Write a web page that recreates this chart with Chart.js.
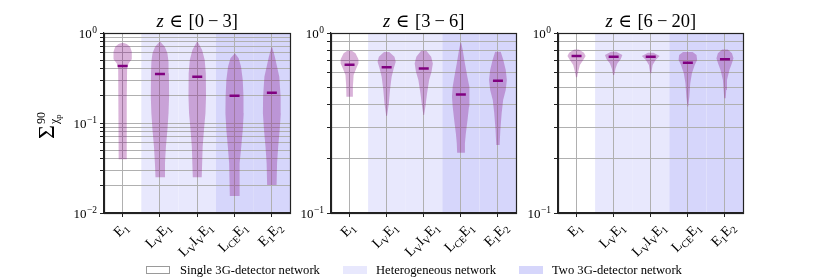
<!DOCTYPE html>
<html>
<head>
<meta charset="utf-8">
<script src="https://cdn.jsdelivr.net/npm/chart.js@4.4.1/dist/chart.umd.min.js"></script>
<style>
html,body{margin:0;padding:0;background:#fff;}
#wrap{position:relative;width:830px;height:277px;overflow:hidden;background:#fff;}
.cv{position:absolute;top:0;}
.legtxt{position:absolute;font-family:'Liberation Serif','DejaVu Serif',serif;font-size:12.6px;line-height:12px;color:#000;white-space:nowrap;}
.patch{position:absolute;box-sizing:border-box;}
</style>
</head>
<body>
<div id="wrap">
  <canvas id="c1" class="cv" style="left:0px" width="298" height="277"></canvas>
  <canvas id="c2" class="cv" style="left:285px" width="239" height="277"></canvas>
  <canvas id="c3" class="cv" style="left:512px" width="239" height="277"></canvas>
</div>
<script>
// ---------------- DATA ----------------
const categories = ['E1', 'LVE1', 'LVIVE1', 'LCEE1', 'E1E2'];
// label pieces: [main text, subscript]
const categoryLabelParts = [
  [['E', '1']],
  [['L', 'V'], ['E', '1']],
  [['L', 'V'], ['I', 'V'], ['E', '1']],
  [['L', 'CE'], ['E', '1']],
  [['E', '1'], ['E', '2']]
];
const networkType = ['single', 'hetero', 'hetero', 'two', 'two'];
const legendLabels = ['Single 3G-detector network', 'Heterogeneous network', 'Two 3G-detector network'];
const redshiftBins = [['0', '3'], ['3', '6'], ['6', '20']];
const yTickExponentsWide = [-2, -1, 0];
const yTickExponentsNarrow = [-1, 0];

// violin profiles: [value, half width (in category units)], from top to bottom
const z0to3_E1 = [[0.775,0.03],[0.755,0.11],[0.705,0.2],[0.62,0.245],[0.51,0.245],[0.46,0.16],[0.405,0.12],[0.196,0.115],[0.0836,0.105],[0.0395,0.10]];
const z0to3_LVE1 = [[0.801,0.01],[0.705,0.13],[0.594,0.2],[0.48,0.23],[0.356,0.24],[0.196,0.245],[0.128,0.23],[0.0836,0.2],[0.0546,0.16],[0.0356,0.135],[0.0249,0.12]];
const z0to3_LVIVE1 = [[0.801,0.01],[0.647,0.13],[0.501,0.2],[0.356,0.23],[0.196,0.235],[0.128,0.22],[0.0836,0.18],[0.0546,0.145],[0.0249,0.12]];
const z0to3_LCEE1 = [[0.594,0.01],[0.523,0.11],[0.423,0.175],[0.30,0.22],[0.196,0.24],[0.128,0.245],[0.0836,0.22],[0.0546,0.18],[0.0356,0.145],[0.0233,0.127],[0.01545,0.127]];
const z0to3_E1E2 = [[0.693,0.01],[0.546,0.08],[0.423,0.14],[0.327,0.2],[0.196,0.235],[0.128,0.24],[0.0836,0.21],[0.0546,0.17],[0.0356,0.14],[0.0205,0.127]];
const z0to3_medians = [0.43, 0.35, 0.327, 0.201, 0.217];

const z3to6_E1 = [[0.798,0.06],[0.771,0.16],[0.714,0.24],[0.678,0.24],[0.636,0.18],[0.584,0.11],[0.503,0.09],[0.443,0.085]];
const z3to6_LVE1 = [[0.784,0.07],[0.739,0.21],[0.693,0.245],[0.636,0.19],[0.572,0.135],[0.482,0.09],[0.407,0.06],[0.346,0.01]];
const z3to6_LVIVE1 = [[0.798,0.07],[0.739,0.2],[0.678,0.245],[0.61,0.21],[0.548,0.145],[0.462,0.09],[0.398,0.05],[0.35,0.01]];
const z3to6_LCEE1 = [[0.884,0.01],[0.804,0.05],[0.678,0.11],[0.572,0.175],[0.503,0.22],[0.443,0.24],[0.39,0.22],[0.329,0.18],[0.277,0.135],[0.244,0.11],[0.216,0.10]];
const z3to6_E1E2 = [[0.788,0.075],[0.708,0.145],[0.623,0.21],[0.548,0.24],[0.482,0.21],[0.424,0.14],[0.358,0.1],[0.289,0.065],[0.239,0.045]];
const z3to6_medians = [0.667, 0.645, 0.636, 0.456, 0.543];

const z6to20_E1 = [[0.811,0.06],[0.777,0.2],[0.745,0.245],[0.708,0.18],[0.664,0.09],[0.61,0.045],[0.567,0.015]];
const z6to20_LVE1 = [[0.788,0.07],[0.755,0.235],[0.714,0.19],[0.678,0.1],[0.636,0.05],[0.584,0.015]];
const z6to20_LVIVE1 = [[0.777,0.075],[0.745,0.24],[0.708,0.13],[0.664,0.05],[0.597,0.015]];
const z6to20_LCEE1 = [[0.784,0.13],[0.755,0.235],[0.708,0.25],[0.664,0.185],[0.597,0.11],[0.525,0.065],[0.443,0.04],[0.39,0.01]];
const z6to20_E1E2 = [[0.811,0.075],[0.771,0.19],[0.723,0.23],[0.678,0.185],[0.623,0.12],[0.548,0.055],[0.482,0.035],[0.434,0.02]];
const z6to20_medians = [0.745, 0.739, 0.739, 0.684, 0.714];

// ---------------- STYLE ----------------
const FONT = "'Liberation Serif','DejaVu Serif',serif";
const shadeColors = { single: null, hetero: 'rgb(232,232,253)', two: 'rgb(214,214,251)' };
const GRID = '#b0b0b0';
const AXIS = '#222222';

function logTicks(min, max) {
  const out = [];
  const e0 = Math.round(Math.log10(min)), e1 = Math.round(Math.log10(max));
  for (let e = e0; e < e1; e++) for (let m = 1; m < 10; m++) out.push(+(m * Math.pow(10, e)).toPrecision(6));
  out.push(max);
  return out;
}

function measureRich(ctx, parts, size) {
  let w = 0;
  parts.forEach(([m, s]) => {
    ctx.font = size + 'px ' + FONT; w += ctx.measureText(m).width;
    if (s) { ctx.font = (size * 0.7) + 'px ' + FONT; w += ctx.measureText(s).width; }
  });
  return w;
}
function drawRich(ctx, parts, x, y, size) {
  let cx = x;
  parts.forEach(([m, s]) => {
    ctx.font = size + 'px ' + FONT; ctx.fillText(m, cx, y); cx += ctx.measureText(m).width;
    if (s) { ctx.font = (size * 0.7) + 'px ' + FONT; ctx.fillText(s, cx, y + size * 0.22); cx += ctx.measureText(s).width; }
  });
}

const backgroundPlugin = {
  id: 'networkShading',
  beforeDraw(chart) {
    const { ctx, chartArea: a, scales: { x } } = chart;
    ctx.save();
    networkType.forEach((t, i) => {
      const col = shadeColors[t];
      if (!col) return;
      const l = x.getPixelForValue(i - 0.5), r = x.getPixelForValue(i + 0.5);
      ctx.fillStyle = col;
      ctx.fillRect(l, a.top, r - l, a.bottom - a.top);
    });
    ctx.restore();
  }
};

const decorPlugin = {
  id: 'decor',
  afterDraw(chart) {
    const { ctx, chartArea: a, scales: { x, y } } = chart;
    const o = chart.options.plugins.decor;
    ctx.save();
    // frame
    ctx.strokeStyle = AXIS; ctx.lineWidth = 1.2;
    ctx.strokeRect(Math.round(a.left) + 0.5, Math.round(a.top) + 0.5, Math.round(a.right - a.left) - 1, Math.round(a.bottom - a.top));
    ctx.fillStyle = '#000';
    ctx.textBaseline = 'alphabetic'; ctx.textAlign = 'left';
    // x labels (rotated 45deg, centred on tick)
    const sz = 14.2;
    categoryLabelParts.forEach((parts, i) => {
      const px = x.getPixelForValue(i);
      const w = measureRich(ctx, parts, sz);
      const h = sz * 0.95;
      const W = (w + h) * Math.SQRT1_2;
      ctx.save();
      ctx.translate(px - 1, a.bottom + 8 + W / 2);
      ctx.rotate(-Math.PI / 4);
      drawRich(ctx, parts, -w / 2, sz * 0.22, sz);
      ctx.restore();
    });
    // y labels 10^n
    o.exponents.forEach(e => {
      const py = y.getPixelForValue(Math.pow(10, e));
      const sup = e < 0 ? '\u2212' + Math.abs(e) : String(e);
      ctx.font = '13px ' + FONT; const w10 = ctx.measureText('10').width;
      ctx.font = '9.5px ' + FONT; const ws = ctx.measureText(sup).width;
      const x0 = a.left - 7 - (w10 + ws + 0.5);
      ctx.font = '13px ' + FONT; ctx.fillText('10', x0, py + 4.5);
      ctx.font = '9.5px ' + FONT; ctx.fillText(sup, x0 + w10 + 0.5, py - 0.5);
    });
    // title  z ∈ [a − b]
    const tsz = 18.5;
    const pieces = [
      { t: 'z', it: true }, { g: 0.3 }, { t: '\u2208' }, { g: 0.3 },
      { t: '[' + o.bin[0] }, { g: 0.22 }, { t: '\u2212' }, { g: 0.22 }, { t: o.bin[1] + ']' }
    ];
    let tw = 0;
    pieces.forEach(p => {
      if (p.g) { tw += p.g * tsz; return; }
      ctx.font = (p.it ? 'italic ' : '') + tsz + 'px ' + FONT; p.w = ctx.measureText(p.t).width; tw += p.w;
    });
    let tx = (a.left + a.right) / 2 - tw / 2;
    pieces.forEach(p => {
      if (p.g) { tx += p.g * tsz; return; }
      ctx.font = (p.it ? 'italic ' : '') + tsz + 'px ' + FONT; ctx.fillText(p.t, tx, 26.5); tx += p.w;
    });
    // y-axis title
    if (o.yTitle) {
      ctx.save();
      ctx.translate(54, 139);
      ctx.rotate(-Math.PI / 2);
      ctx.font = '24px ' + FONT; ctx.fillText('\u03A3', 0, 0);
      const wS = ctx.measureText('\u03A3').width + 1;
      ctx.font = '12px ' + FONT; ctx.fillText('90', wS, -9);
      ctx.fillText('\u03C7', wS, 4);
      const wc = ctx.measureText('\u03C7').width;
      ctx.font = '8.5px ' + FONT; ctx.fillText('p', wS + wc, 6.5);
      ctx.restore();
    }
    ctx.restore();
  }
};

function makeChart(id, profiles, medians, yMin, yMax, yWidth, padRight, bin, exponents, yTitle) {
  const datasets = [{
    data: medians.map((m, i) => ({ x: i, y: m })),
    showLine: false, pointStyle: 'line', pointRadius: 5, pointBorderWidth: 2.5,
    pointBorderColor: '#800080', pointBackgroundColor: '#800080', order: 0
  }];
  profiles.forEach((prof, i) => {
    const right = prof.slice().reverse().map(([v, w]) => ({ x: i + w, y: v }));
    const left = prof.map(([v, w]) => ({ x: i - w, y: v }));
    datasets.push({
      data: right.concat(left), fill: 'shape', backgroundColor: 'rgba(128,0,128,0.3)',
      borderWidth: 0, pointRadius: 0, tension: 0, order: 1
    });
  });
  const gridOpts = { color: GRID, lineWidth: 1, tickLength: 4, tickColor: AXIS, tickWidth: 1 };
  return new Chart(document.getElementById(id), {
    type: 'line',
    data: { datasets },
    options: {
      responsive: false, animation: false, devicePixelRatio: 1, events: [],
      layout: { padding: { top: 33, right: padRight, left: 0, bottom: 0 } },
      plugins: { legend: { display: false }, tooltip: { enabled: false }, decor: { bin, exponents, yTitle } },
      scales: {
        x: {
          type: 'linear', min: -0.5, max: 4.5,
          afterBuildTicks: s => { s.ticks = categories.map((_, i) => ({ value: i })); },
          ticks: { display: false }, grid: gridOpts, border: { color: AXIS, width: 1.2 },
          afterFit: s => { s.height = 64; }
        },
        y: {
          type: 'logarithmic', min: yMin, max: yMax,
          afterBuildTicks: s => { s.ticks = logTicks(yMin, yMax).map(v => ({ value: v })); },
          ticks: { display: false }, grid: gridOpts, border: { color: AXIS, width: 1.2 },
          afterFit: s => { s.width = yWidth; }
        }
      }
    },
    plugins: [backgroundPlugin, decorPlugin]
  });
}

makeChart('c1', [z0to3_E1, z0to3_LVE1, z0to3_LVIVE1, z0to3_LCEE1, z0to3_E1E2], z0to3_medians, 0.01, 1, 104, 4, redshiftBins[0], yTickExponentsWide, true);
makeChart('c2', [z3to6_E1, z3to6_LVE1, z3to6_LVIVE1, z3to6_LCEE1, z3to6_E1E2], z3to6_medians, 0.1, 1, 46, 3, redshiftBins[1], yTickExponentsNarrow, false);
makeChart('c3', [z6to20_E1, z6to20_LVE1, z6to20_LVIVE1, z6to20_LCEE1, z6to20_E1E2], z6to20_medians, 0.1, 1, 46, 3, redshiftBins[2], yTickExponentsNarrow, false);

// legend
const wrap = document.getElementById('wrap');
const legendPatchX = [146, 343, 519];
const legendTextX = [180, 376, 552];
const legendFills = ['#ffffff', shadeColors.hetero, shadeColors.two];
legendLabels.forEach((lab, i) => {
  const p = document.createElement('div');
  p.className = 'patch';
  p.style.left = legendPatchX[i] + 'px'; p.style.top = '266px';
  p.style.width = '24px'; p.style.height = '8px';
  p.style.background = legendFills[i];
  if (i === 0) p.style.border = '1px solid #9a9a9a';
  wrap.appendChild(p);
  const t = document.createElement('div');
  t.className = 'legtxt';
  t.style.left = legendTextX[i] + 'px'; t.style.top = '264px';
  t.textContent = lab;
  wrap.appendChild(t);
});
</script>
</body>
</html>
